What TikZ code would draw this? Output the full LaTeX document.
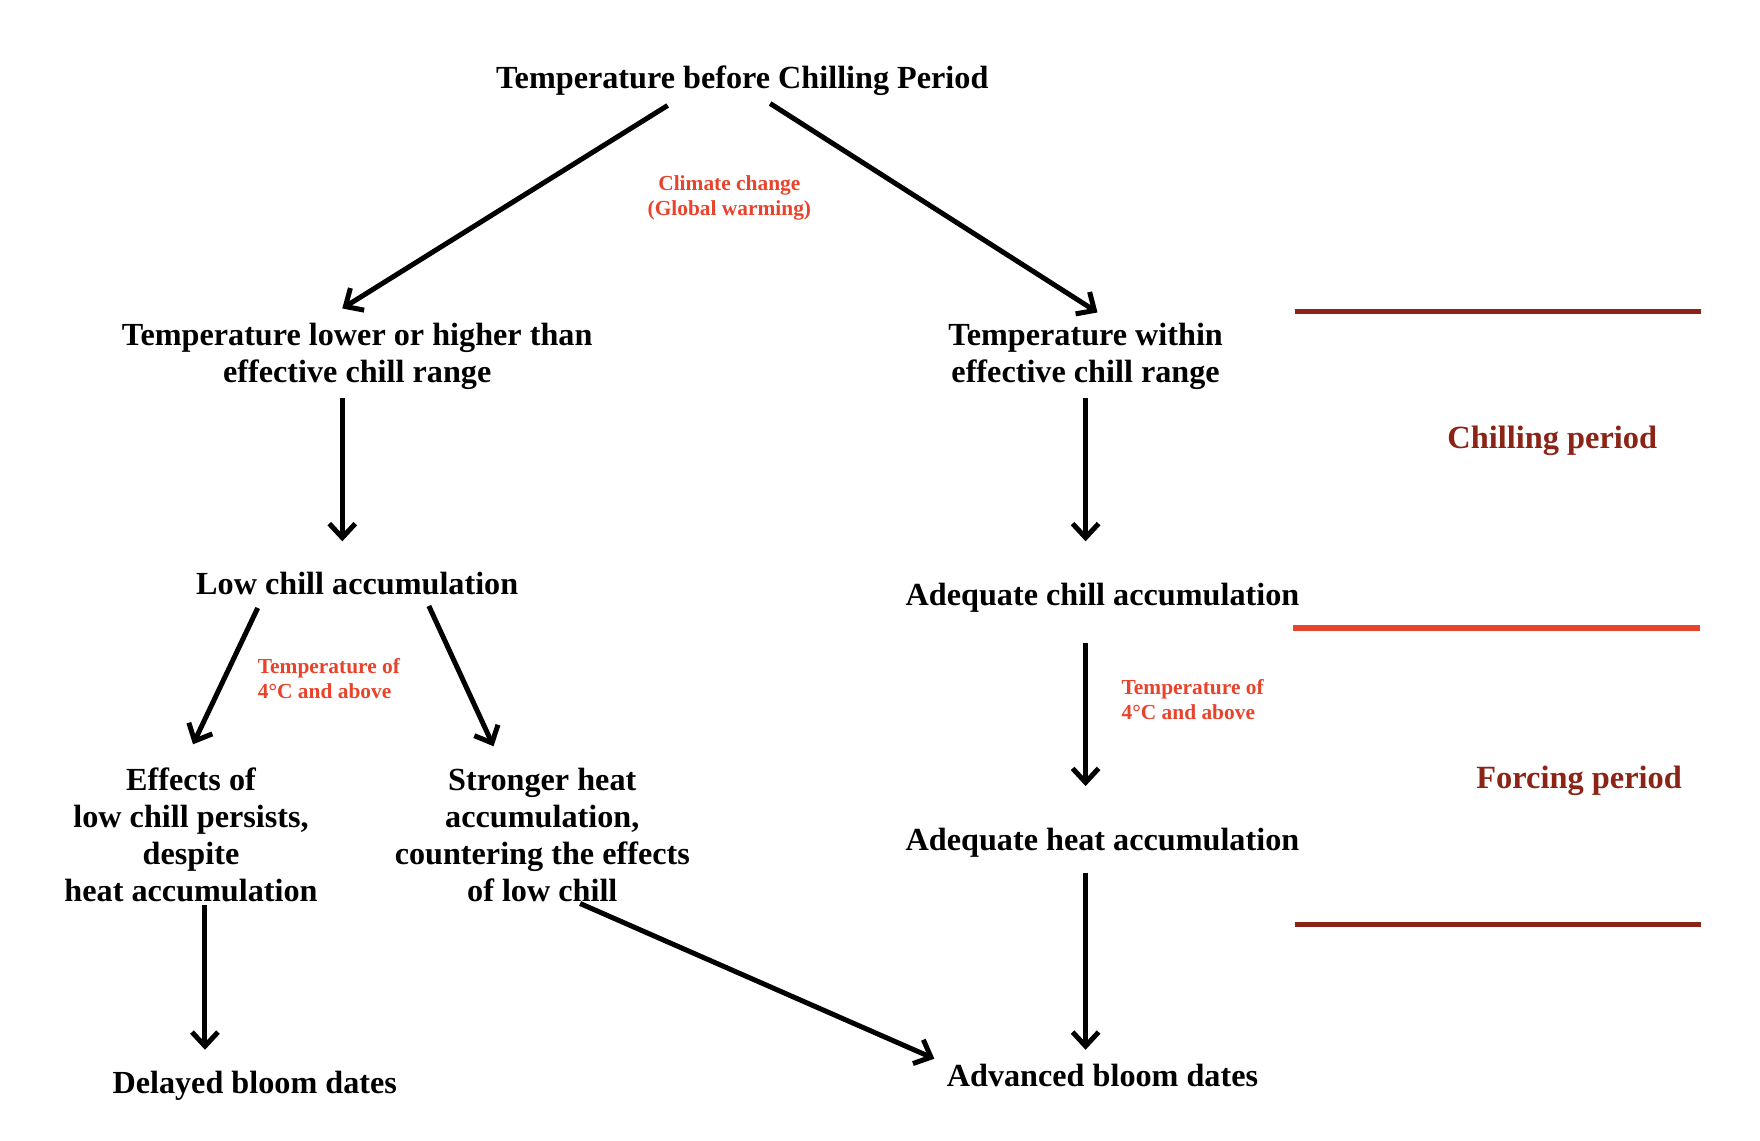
\documentclass[tikz,border=0pt]{standalone}
\usepackage{fontspec}
\setmainfont{Liberation Serif}
\usetikzlibrary{arrows.meta}
\definecolor{darkred}{HTML}{8B2417}
\definecolor{orred}{HTML}{E8432B}
\tikzset{
  mainlbl/.style={inner sep=0pt, align=center, font=\fontsize{32.2}{37}\selectfont\bfseries},
  redlbl/.style={inner sep=0pt, text=orred, font=\fontsize{21.4}{25.5}\selectfont\bfseries},
  periodlbl/.style={inner sep=0pt, text=darkred, font=\fontsize{32.4}{38}\selectfont\bfseries},
  arr/.style={line width=5pt, -{Straight Barb[length=14pt,width=26pt]}},
  periodline/.style={line width=5.5pt}
}
\begin{document}
\begin{tikzpicture}[x=0.995pt,y=-0.995pt]
\useasboundingbox[fill=white] (0,0) rectangle (1768.8,1145.7);

\node[mainlbl] (title) at (746,81.4) {Temperature before Chilling Period};
\node[mainlbl] (L1) at (359,358) {Temperature lower or higher than\\effective chill range};
\node[mainlbl] (R1) at (1091,358) {Temperature within\\effective chill range};
\node[mainlbl] (lowchill) at (359,586.4) {Low chill accumulation};
\node[mainlbl] (adchill) at (1108,600.4) {Adequate chill accumulation};
\node[mainlbl] (effects) at (192,839.4) {Effects of\\low chill persists,\\despite\\heat accumulation};
\node[mainlbl] (stronger) at (545,839.4) {Stronger heat\\accumulation,\\countering the effects\\of low chill};
\node[mainlbl] (adheat) at (1108,847.4) {Adequate heat accumulation};
\node[mainlbl] (delayed) at (256,1091.4) {Delayed bloom dates};
\node[mainlbl] (advanced) at (1108,1080.4) {Advanced bloom dates};

\node[redlbl, align=center] (climate) at (733,199) {Climate change\\(Global warming)};
\node[redlbl, align=left, anchor=west] (tempL) at (259,682) {Temperature of\\4°C and above};
\node[redlbl, align=left, anchor=west] (tempR) at (1127,703) {Temperature of\\4°C and above};

\node[periodlbl] (chilling) at (1560,443.4) {Chilling period};
\node[periodlbl] (forcing) at (1587,784.4) {Forcing period};

\draw[periodline, darkred] (1301,313) -- (1709,313);
\draw[periodline, orred] (1299,631) -- (1708,631);
\draw[periodline, darkred] (1301,929) -- (1709,929);

\draw[arr] ([shift={(-75,24.6)}]title.center) -- ([shift={(-15,-48)}]L1.center);
\draw[arr] ([shift={(28,22.6)}]title.center) -- ([shift={(12,-44)}]R1.center);
\draw[arr] ([shift={(-15,42)}]L1.center) -- ([shift={(-15,-42.4)}]lowchill.center);
\draw[arr] ([shift={(0,42)}]R1.center) -- ([shift={(-17,-56.4)}]adchill.center);
\draw[arr] ([shift={(-100,24.6)}]lowchill.center) -- ([shift={(2,-91.4)}]effects.center);
\draw[arr] ([shift={(72,22.6)}]lowchill.center) -- ([shift={(-49,-89.4)}]stronger.center);
\draw[arr] ([shift={(-17,45.6)}]adchill.center) -- ([shift={(-17,-57.4)}]adheat.center);
\draw[arr] ([shift={(14,70.6)}]effects.center) -- ([shift={(-50,-36.4)}]delayed.center);
\draw[arr] ([shift={(38,68.6)}]stronger.center) -- ([shift={(-169,-16.4)}]advanced.center);
\draw[arr] ([shift={(-17,29.6)}]adheat.center) -- ([shift={(-17,-25.4)}]advanced.center);
\end{tikzpicture}
\end{document}
